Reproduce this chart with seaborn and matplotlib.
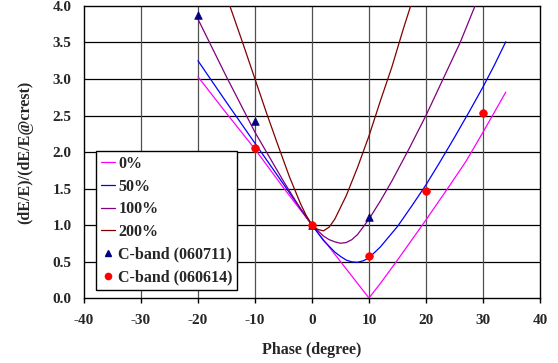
import numpy as np
import pandas as pd
import matplotlib
matplotlib.use("Agg")
import matplotlib.pyplot as plt
from matplotlib.lines import Line2D
import seaborn as sns

# ---- data ----
PHASE_0 = [-20, -15, -10, -5, 0, 5, 8, 9, 10, 11, 12, 15, 20, 23.8, 27, 30, 34]
VAL_0 = [3.03, 2.53, 2.04, 1.51, 1.0, 0.5, 0.2, 0.1, 0.0, 0.1, 0.2, 0.52, 1.07, 1.5, 1.87, 2.27, 2.82]

PHASE_50 = [-20, -15, -10, -5, 0, 2, 4, 5, 6, 7, 8, 9, 10, 12, 15, 17.5, 20, 22.5, 25, 27.5, 30, 32, 34]
VAL_50 = [3.25, 2.68, 2.12, 1.56, 1.0, 0.79, 0.63, 0.57, 0.52, 0.495, 0.49, 0.51, 0.55, 0.7, 0.98,
          1.26, 1.55, 1.87, 2.2, 2.54, 2.89, 3.19, 3.51]

PHASE_100 = [-20, -15, -10, -5, -2, 0, 2, 3, 4, 5, 6, 7, 8, 10, 12, 14, 17, 20, 23, 26, 28.6, 30]
VAL_100 = [3.82, 3.03, 2.27, 1.6, 1.22, 1.0, 0.85, 0.8, 0.77, 0.75, 0.76, 0.8, 0.87, 1.08, 1.33,
           1.6, 2.04, 2.5, 3.0, 3.5, 4.0, 4.25]

PHASE_200 = [-15, -14, -12, -10, -8, -6, -4, -2, -1, 0, 1, 2, 3, 4, 6, 8, 10, 12, 14, 16, 18]
VAL_200 = [4.13, 3.91, 3.46, 3.0, 2.54, 2.1, 1.67, 1.29, 1.13, 1.0, 0.94, 0.92, 0.97, 1.08, 1.4,
           1.79, 2.22, 2.7, 3.16, 3.68, 4.17]

TRI_X = [-20, -10, 0, 10]
TRI_Y = [3.87, 2.43, 1.0, 1.11]
DOT_X = [-10, 0, 10, 20, 30]
DOT_Y = [2.05, 1.0, 0.57, 1.47, 2.53]

LABELS = ["0%", "50%", "100%", "200%"]
COLORS = {"0%": "#FF00FF", "50%": "#0000FF", "100%": "#800080", "200%": "#800000"}

sns.set_theme(style="white")
plt.rcParams["font.family"] = ["Liberation Serif", "DejaVu Serif"]
plt.rcParams["font.weight"] = "bold"
plt.rcParams["axes.unicode_minus"] = False

frames = []
for lab, xs, ys in zip(LABELS, [PHASE_0, PHASE_50, PHASE_100, PHASE_200],
                       [VAL_0, VAL_50, VAL_100, VAL_200]):
    frames.append(pd.DataFrame({"phase": xs, "ratio": ys, "case": lab}))
curves = pd.concat(frames, ignore_index=True)

fig = plt.figure(figsize=(5.58, 3.63), dpi=100)
ax = fig.add_axes([0.1505, 0.179, 0.8172, 0.8045])

# grid
for y in np.arange(0.5, 4.0, 0.5):
    ax.axhline(y, color="black", lw=0.9, zorder=1)
for x in range(-30, 40, 10):
    ax.axvline(x, color="#505050", lw=0.9, zorder=1)

sns.lineplot(data=curves, x="phase", y="ratio", hue="case", hue_order=LABELS,
             palette=COLORS, lw=0.9, ax=ax, legend=False, zorder=3)
sns.scatterplot(x=TRI_X, y=TRI_Y, marker="^", color="#000080", s=30, edgecolor="#000080",
                linewidth=0.5, ax=ax, zorder=4)
sns.scatterplot(x=DOT_X, y=DOT_Y, marker="o", color="#FF0000", s=30, edgecolor="#FF0000",
                linewidth=0.5, ax=ax, zorder=5)

ax.set_xlim(-40, 40)
ax.set_ylim(0, 4.0)
ax.set_xticks(range(-40, 41, 10))
ax.set_yticks(np.arange(0, 4.01, 0.5))
ax.set_yticklabels([f"{v:.1f}" for v in np.arange(0, 4.01, 0.5)])
ax.tick_params(axis="x", direction="out", length=3.6, width=1, color="black",
               labelsize=11, pad=8, bottom=True)
ax.tick_params(axis="y", length=0, labelsize=11, pad=9, left=True)
for s in ax.spines.values():
    s.set_color("black")
    s.set_linewidth(1.0)

ax.set_xlabel("Phase (degree)", fontsize=11.5, fontweight="bold", labelpad=11)
ax.set_ylabel("(dE/E)/(dE/E@crest)", fontsize=11.5, fontweight="bold", labelpad=14)

handles = [Line2D([], [], color=COLORS[l], lw=0.9) for l in LABELS]
handles.append(Line2D([], [], ls="none", marker="^", color="#000080", ms=5))
handles.append(Line2D([], [], ls="none", marker="o", color="#FF0000", ms=4.5))
leg = ax.legend(handles, LABELS + ["C-band (060711)", "C-band (060614)"],
                loc="lower left", bbox_to_anchor=(0.026, 0.027), borderaxespad=0,
                fontsize=11.5, handlelength=0.9, handletextpad=0.2, labelspacing=0.42,
                borderpad=0.3, frameon=True, fancybox=False, framealpha=1)
leg.get_frame().set_edgecolor("black")
leg.get_frame().set_linewidth(1.0)
leg.set_zorder(6)
for t in leg.get_texts():
    t.set_fontweight("bold")

fig.savefig("out.png", dpi=100)
